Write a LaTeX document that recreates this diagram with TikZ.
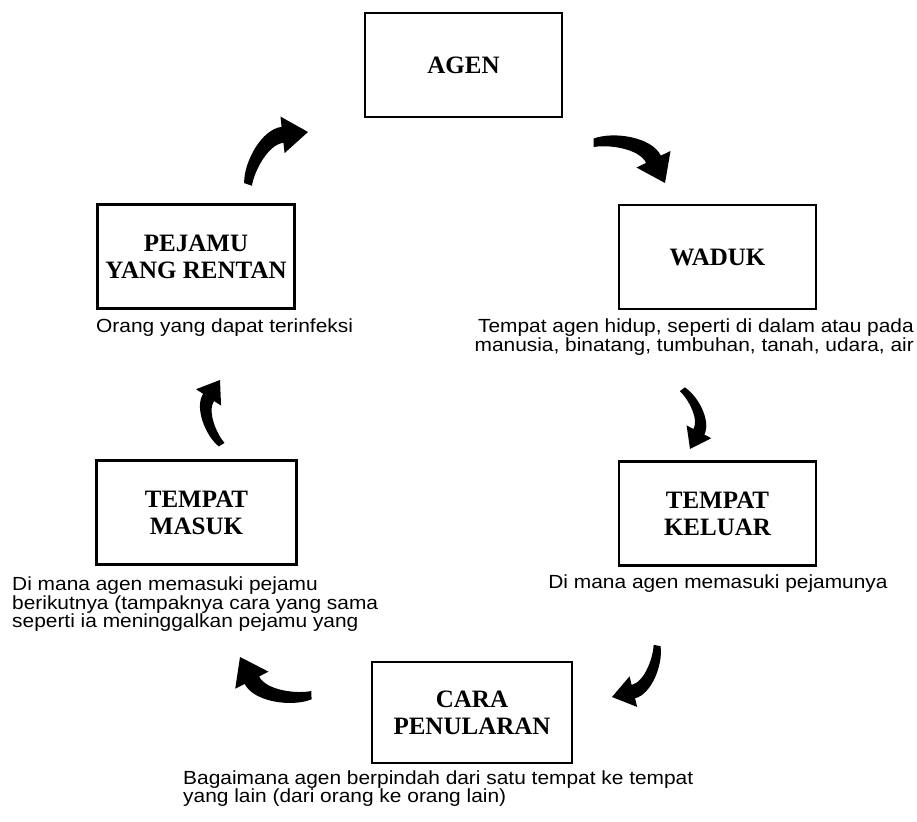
\documentclass[tikz,border=0pt]{standalone}
\usepackage{fontspec}
\usetikzlibrary{calc}
\newfontfamily\serifb{Liberation Serif}
\newfontfamily\descf[FakeStretch=1.1]{Liberation Sans}
\newcommand\tarrow[2]{%
  \path let \p1=(#1), \p2=(#2), \n1={atan2(\y2-\y1,\x2-\x1)}, \n2={veclen(\x2-\x1,\y2-\y1)} in \pgfextra{\xdef\tarA{\n1}\xdef\tarL{\n2}};
  \begin{scope}[shift={(#1)}, rotate=\tarA]
    \fill[black] ({-0.02*\tarL},{0.05*\tarL}) .. controls ({0.15*\tarL},{0.25*\tarL}) and ({0.59*\tarL},{0.41*\tarL}) .. ({0.795*\tarL},{0.266*\tarL})
      -- ({0.87*\tarL},{0.372*\tarL}) -- ({\tarL},0) -- ({0.606*\tarL},{-0.004*\tarL}) -- ({0.681*\tarL},{0.102*\tarL})
      .. controls ({0.517*\tarL},{0.217*\tarL}) and ({0.16*\tarL},{0.07*\tarL}) .. ({0.03*\tarL},{-0.04*\tarL}) -- cycle;
  \end{scope}}
\begin{document}
\begin{tikzpicture}[x=1pt,y=1pt,
  box/.style={draw, line width=2.4pt, minimum width=197pt, minimum height=104pt, inner sep=0pt, align=center,
    font={\serifb\bfseries\fontsize{25}{27}\selectfont}},
  desc/.style={inner sep=0pt, font={\descf\fontsize{19}{18.5}\selectfont}}]
\useasboundingbox (0,0) rectangle (917,821);
\fill[white] (0,0) rectangle (917,821);
% boxes
\node[box] (agen) at (463.5,756) {AGEN};
\node[box] (waduk) at (717.5,564) {WADUK};
\node[box] (pejamu) at (196,564.5) {PEJAMU\\YANG RENTAN};
\node[box] (keluar) at (717.5,307.5) {TEMPAT\\KELUAR};
\node[box, minimum width=200pt] (masuk) at (196.5,308.5) {TEMPAT\\MASUK};
\node[box, minimum width=200pt, minimum height=101pt] (cara) at (472,108.5) {CARA\\PENULARAN};
% descriptions (base anchor = last line)
\node[desc, anchor=base west] (dpejamu) at (96,488) {Orang yang dapat terinfeksi};
\node[desc, anchor=base east, align=right] (dwaduk) at (914,469.5) {Tempat agen hidup, seperti di dalam atau pada\\manusia, binatang, tumbuhan, tanah, udara, air};
\node[desc, anchor=base] (dkeluar) at (718,232) {Di mana agen memasuki pejamunya};
\node[desc, anchor=base west, align=left] (dmasuk) at (12,193) {Di mana agen memasuki pejamu\\berikutnya (tampaknya cara yang sama\\seperti ia meninggalkan pejamu yang};
\node[desc, anchor=base west, align=left] (dcara) at (183,18.5) {Bagaimana agen berpindah dari satu tempat ke tempat\\yang lain (dari orang ke orang lain)};
% arrow end points
\coordinate (a1s) at (593,678); \coordinate (a1e) at (665,638);
\coordinate (a2s) at (682,432); \coordinate (a2e) at (690,372);
\coordinate (a3s) at (657,176); \coordinate (a3e) at (612,124);
\coordinate (a4s) at (312,126); \coordinate (a4e) at (240,164);
\coordinate (a5s) at (222,376); \coordinate (a5e) at (220,441);
\coordinate (a6s) at (248,636); \coordinate (a6e) at (308,689);
\tarrow{a1s}{a1e}
\tarrow{a2s}{a2e}
\tarrow{a3s}{a3e}
\tarrow{a4s}{a4e}
\tarrow{a5s}{a5e}
\tarrow{a6s}{a6e}
\end{tikzpicture}
\end{document}
